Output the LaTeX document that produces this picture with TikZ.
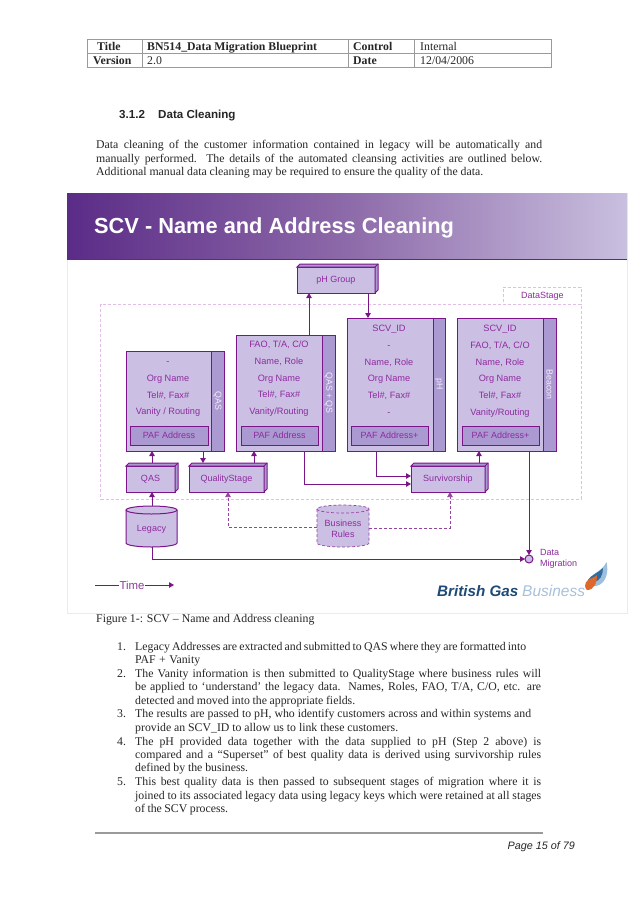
\documentclass[tikz,border=0pt]{standalone}
\usepackage{fontspec}
\setmainfont{Liberation Serif}
\setsansfont{Liberation Sans}
\usetikzlibrary{arrows.meta,calc}
\definecolor{ln}{HTML}{7A1488}
\definecolor{tx}{HTML}{8E2A9E}
\definecolor{fa}{HTML}{CBC0E4}
\definecolor{fb}{HTML}{AB9AD2}
\definecolor{dashc}{HTML}{E3BCEA}
\definecolor{gr}{HTML}{9A9A9A}
\definecolor{HTMLa}{HTML}{5B2C87}
\definecolor{HTMLb}{HTML}{8D6AA9}
\definecolor{HTMLc}{HTML}{C9BFDF}
\definecolor{HTMLd}{HTML}{1F4A75}
\definecolor{HTMLe}{HTML}{A9C0DA}
\definecolor{HTMLf}{HTML}{2F6C9F}
\definecolor{HTMLg}{HTML}{DD6A2A}
\definecolor{HTMLh}{HTML}{9DBEDD}
\tikzset{
  x=1pt,y=-1pt,
  flow/.style={draw=ln,line width=1pt,-{Triangle[length=5pt,width=5.5pt]}},
  dflow/.style={draw=ln!80,line width=.7pt,densely dashed,-{Triangle[length=5pt,width=5.5pt]}},
  body/.style={draw=ln,line width=1pt,fill=fa,anchor=north west,inner sep=0pt,outer sep=0pt},
  strip/.style={draw=ln,line width=1pt,fill=fb,anchor=north west,inner sep=0pt,outer sep=0pt},
  paf/.style={draw=ln,line width=1pt,fill=fb,anchor=north west,inner sep=0pt,outer sep=0pt,font=\sffamily\fontsize{9}{10}\selectfont,text=tx},
  rows/.style={anchor=north,inner sep=0pt,align=center,text=tx,font=\sffamily\fontsize{9.2}{16.9}\selectfont},
  vlab/.style={inner sep=0pt,rotate=-90,text=fa!25!white,font=\sffamily\fontsize{8.8}{10}\selectfont},
  lab/.style={inner sep=0pt,text=tx,font=\sffamily\fontsize{9}{10}\selectfont},
  cube/.style={draw=ln,line width=1pt,fill=fa,anchor=north west,inner sep=0pt,outer sep=0pt,text=tx,font=\sffamily\fontsize{9}{10}\selectfont},
  cylbody/.style={anchor=north west,inner sep=0pt,outer sep=0pt},
  cyllabel/.style={inner sep=0pt,text=tx,align=center,font=\sffamily\fontsize{9}{11}\selectfont},
  cylsolid/.style={draw=ln,line width=1pt,fill=fa},
  cyldash/.style={draw=ln!80,line width=.7pt,densely dashed,fill=fa},
  bodytext/.style={anchor=base west,inner sep=0pt,text=black!85,font=\rmfamily\fontsize{11.8}{13}\selectfont},
  cell/.style={anchor=base west,inner sep=0pt,text=black!85,font=\rmfamily\fontsize{11.8}{13}\selectfont},
  cellb/.style={anchor=base west,inner sep=0pt,text=black!85,font=\rmfamily\bfseries\fontsize{11.8}{13}\selectfont},
}
\newcommand{\fl}{\rule{0pt}{7pt}}
\newcommand{\jline}[5]{\node[bodytext] (#1) at (#2,#3) {\makebox[#4pt][s]{#5}};}
\newcommand{\cubebox}[6]{%
  \node[cube,minimum width=#4pt,minimum height=#5pt] (#1) at (#2,#3) {#6};
  \draw[draw=ln,line width=1pt,fill=fb] (#1.north west) -- ++(3,-3) -- ++(#4,0) -- ++(0,#5) -- (#1.south east) -- (#1.north east) -- cycle;
  \draw[draw=ln,line width=1pt] (#1.north east) -- ++(3,-3);
}
% name, x, y, width, half width, height, style, label
\newcommand{\cylbox}[8]{%
  \node[cylbody,minimum width=#4pt,minimum height=#6pt] (#1) at (#2,#3) {};
  \draw[#7] ($(#1.north west)+(0,4)$) -- ($(#1.south west)+(0,-4)$)
    arc[start angle=180,end angle=360,x radius=#5pt,y radius=4pt]
    -- ($(#1.north east)+(0,4)$)
    arc[start angle=0,end angle=180,x radius=#5pt,y radius=4pt] -- cycle;
  \draw[#7,fill=none] ($(#1.north west)+(0,4)$) arc[start angle=180,end angle=360,x radius=#5pt,y radius=4pt];
  \node[cyllabel] (#1t) at ($(#1.center)+(0,2.5)$) {#8};
}
\begin{document}
\begin{tikzpicture}
\useasboundingbox (0,0) rectangle (638,903);
\fill[white] (0,0) rectangle (638,903);
% header table
\draw[gr,line width=.8pt] (87.5,39) rectangle (551,67);
\draw[gr,line width=.8pt] (87.5,53) -- (551,53);
\foreach \cx in {142,348,414} \draw[gr,line width=.8pt] (\cx,39) -- (\cx,67);
\node[cellb] (h1) at (97,50) {Title};
\node[cellb] (h2) at (93,64) {Version};
\node[cellb] (h3) at (147,50) {BN514\_Data Migration Blueprint};
\node[cell]  (h4) at (147,64) {2.0};
\node[cellb] (h5) at (353,50) {Control};
\node[cellb] (h6) at (353,64) {Date};
\node[cell]  (h7) at (420,50) {Internal};
\node[cell]  (h8) at (420,64) {12/04/2006};
% heading
\node[anchor=base west,inner sep=0pt,text=black!85,font=\sffamily\bfseries\fontsize{11.6}{13}\selectfont] (s1) at (119,118) {3.1.2};
\node[anchor=base west,inner sep=0pt,text=black!85,font=\sffamily\bfseries\fontsize{11.6}{13}\selectfont] (s2) at (158,118) {Data Cleaning};
% paragraph
\jline{p1}{96}{148}{446}{Data cleaning of the customer information contained in legacy will be automatically and}
\jline{p2}{96}{162}{446}{manually performed.\ \ The details of the automated cleansing activities are outlined below.}
\jline{p3}{96}{175}{387}{Additional manual data cleaning may be required to ensure the quality of the data.}
% panel
\draw[black!8,line width=.6pt] (67,193) rectangle (627,613);
\shade[left color=HTMLa,right color=HTMLc,middle color=HTMLb] (67,193) rectangle (627,259);
\draw[HTMLa,line width=.8pt] (67,259) -- (627,259);
\node[anchor=base west,inner sep=0pt,text=white,font=\sffamily\bfseries\fontsize{21.8}{26}\selectfont] (title) at (94,233) {SCV - Name and Address Cleaning};
% datastage container
\draw[dashc,line width=.8pt,densely dashed] (100.7,304) rectangle (581,499);
\node[draw=dashc,line width=.7pt,densely dashed,fill=white,anchor=north west,inner sep=0pt,minimum width=78pt,minimum height=17pt,text=tx,font=\sffamily\fontsize{9}{10}\selectfont] (ds) at (503,287) {DataStage};
% pH group
\cubebox{ph}{297}{267}{78}{26}{pH Group}
% box 1
\node[body,minimum width=85pt,minimum height=100pt] (b1) at (126,351) {};
\node[strip,minimum width=13pt,minimum height=100pt] (s1b) at (211,351) {};
\node[vlab] (v1) at (s1b.center) {QAS};
\node[rows] (r1) at (168,357) {\fl-\\Org Name\\Tel\#, Fax\#\\Vanity / Routing};
\node[paf,minimum width=78pt,minimum height=19pt] (a1) at (130,426) {PAF Address};
% box 2
\node[body,minimum width=86pt,minimum height=116pt] (b2) at (236,335) {};
\node[strip,minimum width=13pt,minimum height=116pt] (s2b) at (322,335) {};
\node[vlab] (v2) at (s2b.center) {QAS + QS};
\node[rows] (r2) at (279,340) {\fl FAO, T/A, C/O\\Name, Role\\Org Name\\Tel\#, Fax\#\\Vanity/Routing};
\node[paf,minimum width=77pt,minimum height=19pt] (a2) at (241,426) {PAF Address};
% box 3
\node[body,minimum width=86pt,minimum height=133pt] (b3) at (347,318) {};
\node[strip,minimum width=12pt,minimum height=133pt] (s3b) at (433,318) {};
\node[vlab] (v3) at (s3b.center) {pH};
\node[rows] (r3) at (389,324) {\fl SCV\_ID\\-\\Name, Role\\Org Name\\Tel\#, Fax\#\\-};
\node[paf,minimum width=77pt,minimum height=19pt] (a3) at (351,426) {PAF Address+};
% box 4
\node[body,minimum width=86pt,minimum height=133pt] (b4) at (457,318) {};
\node[strip,minimum width=13pt,minimum height=133pt] (s4b) at (543,318) {};
\node[vlab] (v4) at (s4b.center) {Beacon};
\node[rows] (r4) at (500,324) {\fl SCV\_ID\\FAO, T/A, C/O\\Name, Role\\Org Name\\Tel\#, Fax\#\\Vanity/Routing};
\node[paf,minimum width=77pt,minimum height=19pt] (a4) at (462,426) {PAF Address+};
% processes
\cubebox{qas}{126}{466}{49}{26}{QAS}
\cubebox{qs}{189}{466}{75}{26}{QualityStage}
\cubebox{sv}{411}{466}{74}{26}{Survivorship}
% stores
\cylbox{leg}{126}{506}{51}{25.5}{41}{cylsolid}{Legacy}
\cylbox{br}{317}{505}{52}{26}{42}{cyldash}{Business\\Rules}
\node[circle,draw=ln,line width=1pt,fill=fa,minimum size=8pt,inner sep=0pt,outer sep=0pt] (dm) at (529,559) {};
\node[lab,anchor=north west,align=left,font=\sffamily\fontsize{9}{11}\selectfont] (dml) at (540,549) {Data\\Migration};
% connectors
\draw[flow] (152,0 |- leg.north) -- (152,0 |- qas.south);
\draw[flow] ($(152,0 |- qas.north)+(0,-3)$) -- (152,0 |- b1.south);
\draw[flow] (203,0 |- b1.south) -- ($(203,0 |- qs.north)+(0,-3)$);
\draw[flow] ($(254,0 |- qs.north)+(0,-3)$) -- (254,0 |- b2.south);
\draw[flow] (309,0 |- b2.north) -- (309,0 |- ph.south);
\draw[flow] (368,0 |- ph.south) -- (368,0 |- b3.north);
\draw[flow] (304,0 |- b2.south) |- (sv.west |- 0,484);
\draw[flow] (376,0 |- b3.south) |- (sv.west |- 0,476);
\draw[flow] ($(479,0 |- sv.north)+(0,-3)$) -- (479,0 |- b4.south);
\draw[flow] (529,0 |- b4.south) -- (dm.north);
\draw[flow] (152,0 |- leg.south) |- (dm.west);
\draw[dflow] (br.west |- 0,527) -| (228,0 |- qs.south);
\draw[dflow] (br.east |- 0,528) -| (450,0 |- sv.south);
% time
\node[lab,text=tx!80!gray,font=\sffamily\fontsize{11.4}{12}\selectfont] (time) at (132,585) {Time};
\coordinate (t0) at (95,585);
\coordinate (t1) at (174,585);
\draw[draw=ln,line width=1pt] (t0) -- (time.west);
\draw[flow] (time.east) -- (t1);
% logo
\node[anchor=base west,inner sep=0pt,text=HTMLd,draw=none,font=\sffamily\bfseries\itshape\fontsize{15.2}{16}\selectfont] (lg1) at (437,596) {British Gas};
\node[anchor=base west,inner sep=0pt,text=HTMLe,font=\sffamily\itshape\fontsize{15.5}{16}\selectfont] (lg2) at (522,596) {Business};
\fill[HTMLh] (606.5,562) .. controls (609,572) and (606,584) .. (596,586) .. controls (591,587) and (588,585) .. (587,582) .. controls (590,574) and (602,572) .. cycle;
\fill[HTMLf] (603,568) .. controls (603,575) and (600,581) .. (594,582) .. controls (591,582) and (589,581) .. (588,580) .. controls (591,575) and (598,573) .. cycle;
\fill[HTMLg] (597,575) .. controls (597,583) and (594,590) .. (587,590) .. controls (584,588) and (585,583) .. (587,581) .. controls (590,578) and (594,578) .. cycle;
% caption
\node[bodytext] (cap) at (96,622) {Figure 1-: SCV – Name and Address cleaning};
% list
\node[bodytext] (n1) at (117,650) {1.};
\jline{l1}{135}{650}{391}{Legacy Addresses are extracted and submitted to QAS where they are formatted into}
\jline{l1b}{135}{663.5}{65}{PAF + Vanity}
\node[bodytext] (n2) at (117,677) {2.};
\jline{l2}{135}{677}{406}{The Vanity information is then submitted to QualityStage where business rules will}
\jline{l2b}{135}{690.5}{406}{be applied to ‘understand’ the legacy data.\ \ Names, Roles, FAO, T/A, C/O, etc. are}
\jline{l2c}{135}{704}{220}{detected and moved into the appropriate fields.}
\node[bodytext] (n3) at (117,717.7) {3.};
\jline{l3}{135}{717.7}{396}{The results are passed to pH, who identify customers across and within systems and}
\jline{l3b}{135}{731.7}{263}{provide an SCV\_ID to allow us to link these customers.}
\node[bodytext] (n4) at (117,745) {4.};
\jline{l4}{135}{745}{406}{The pH provided data together with the data supplied to pH (Step 2 above) is}
\jline{l4b}{135}{758.7}{406}{compared and a “Superset” of best quality data is derived using survivorship rules}
\jline{l4c}{135}{771.7}{113}{defined by the business.}
\node[bodytext] (n5) at (117,785.7) {5.};
\jline{l5}{135}{785.7}{406}{This best quality data is then passed to subsequent stages of migration where it is}
\jline{l5b}{135}{799}{406}{joined to its associated legacy data using legacy keys which were retained at all stages}
\jline{l5c}{135}{812.7}{93}{of the SCV process.}
% footer
\draw[gr,line width=1.1pt] (95,833) -- (543,833);
\node[anchor=base west,inner sep=0pt,text=black!85,font=\sffamily\itshape\fontsize{10.8}{12}\selectfont] (pg) at (507.5,849) {Page 15 of 79};
\end{tikzpicture}
\end{document}
